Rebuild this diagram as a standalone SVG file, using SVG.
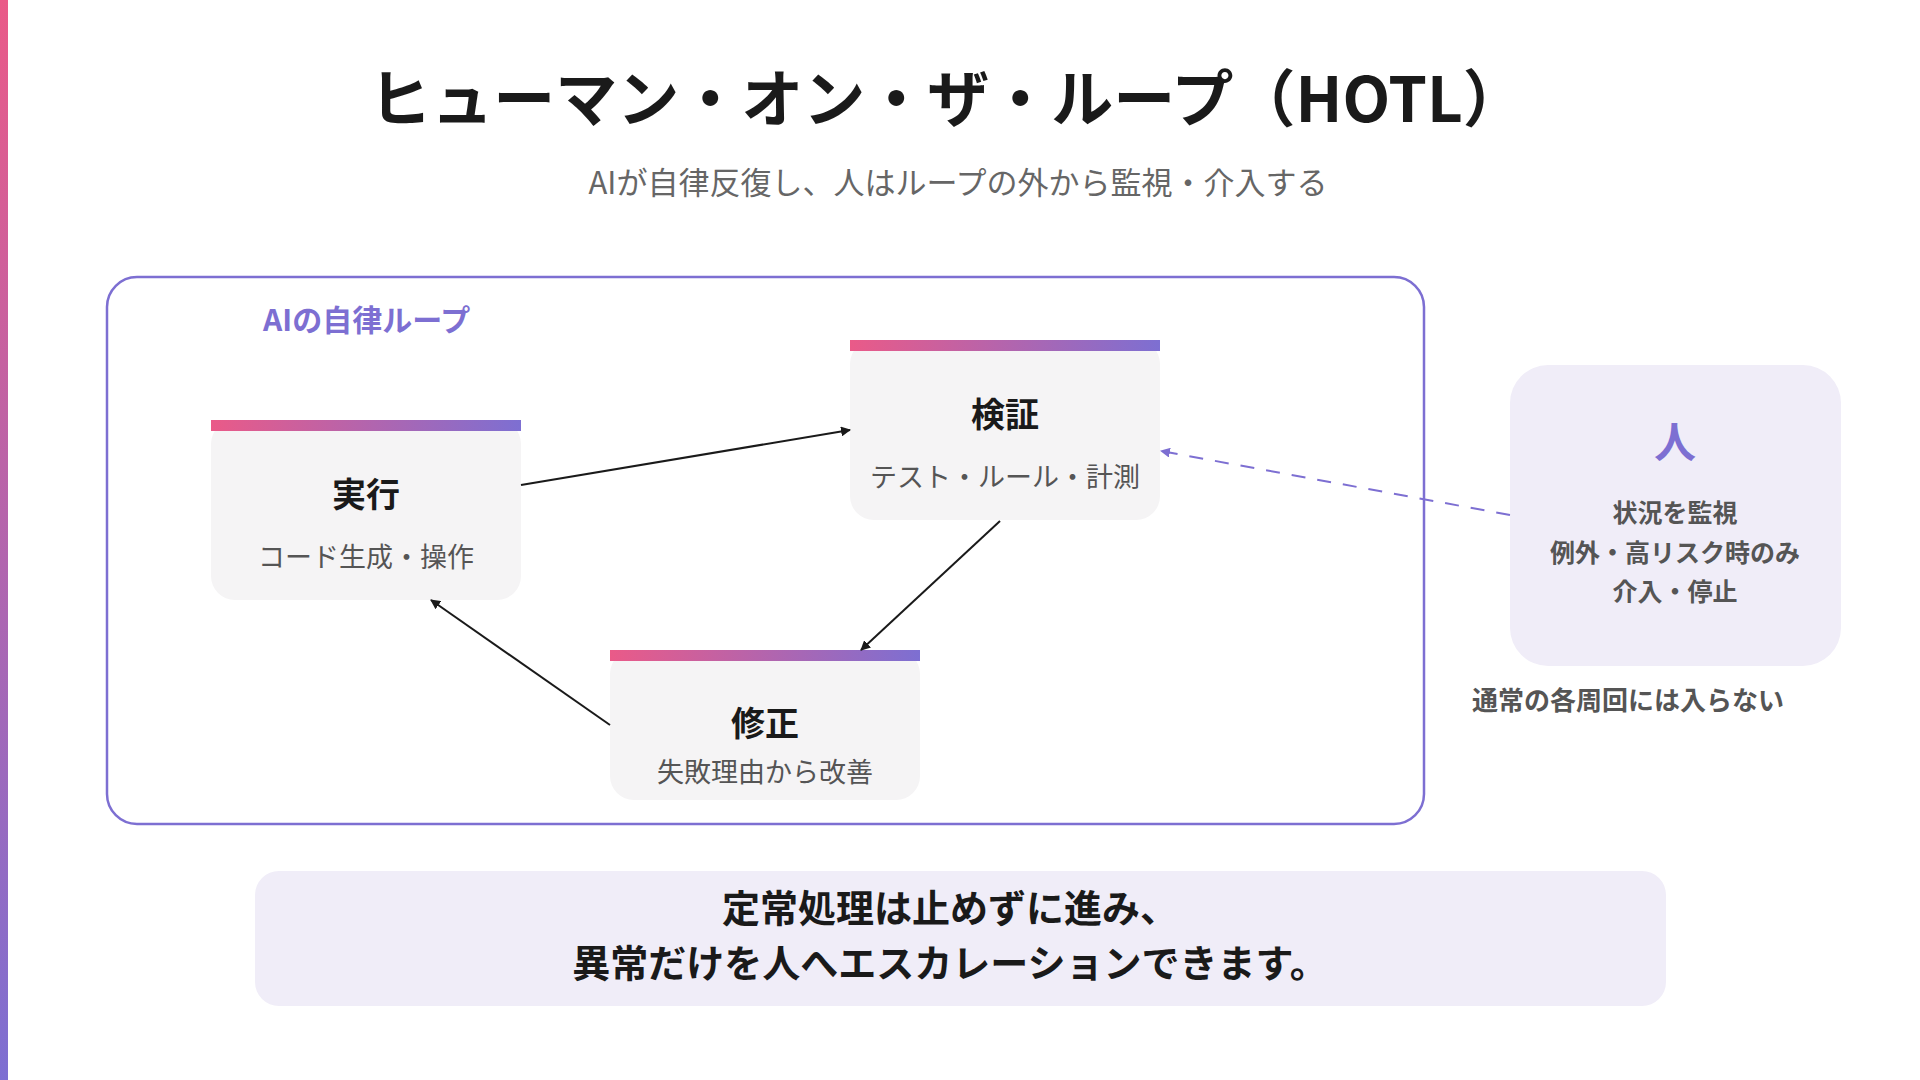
<svg xmlns="http://www.w3.org/2000/svg" width="1920" height="1080" viewBox="0 0 1920 1080">
<defs>
<linearGradient id="gh" x1="0" y1="0" x2="1" y2="0"><stop offset="0" stop-color="#ea5a88"/><stop offset="1" stop-color="#7d6fd2"/></linearGradient>
<linearGradient id="gv" x1="0" y1="0" x2="0" y2="1"><stop offset="0" stop-color="#ea5a88"/><stop offset="1" stop-color="#7d6fd2"/></linearGradient>
<marker id="ah" viewBox="0 0 10 10" refX="9" refY="5" markerWidth="10" markerHeight="10" markerUnits="userSpaceOnUse" orient="auto"><path d="M0,0 L10,5 L0,10 z" fill="#1a1a1a"/></marker>
<marker id="ahp" viewBox="0 0 10 10" refX="9" refY="5" markerWidth="10" markerHeight="10" markerUnits="userSpaceOnUse" orient="auto"><path d="M0,0 L10,5 L0,10 z" fill="#7d6fd2"/></marker>
<style>
text{font-family:"Noto Sans CJK JP","Noto Sans",sans-serif;text-anchor:middle}
.nb{fill:#f5f4f5}
.nt{font-size:34px;font-weight:700;fill:#1a1a1a}
.ns{font-size:27px;fill:#555}
.hs{font-size:25px;font-weight:700;fill:#555}
</style>
</defs>
<rect width="1920" height="1080" fill="#fff"/>
<rect x="0" y="0" width="8" height="1080" fill="url(#gv)"/>
<text x="947" y="122" font-size="62" font-weight="700" fill="#1a1a1a">ヒューマン・オン・ザ・ループ（HOTL）</text>
<text x="958" y="194" font-size="31" fill="#666">AIが自律反復し、人はループの外から監視・介入する</text>
<g id="loop">
<rect x="107" y="277" width="1317" height="547" rx="30" fill="none" stroke="#7d6fd2" stroke-width="2.5"/>
<text x="263" y="331" font-size="30" font-weight="700" fill="#7d6fd2" style="text-anchor:start">AIの自律ループ</text>
</g>
<g id="exec">
<rect class="nb" x="211" y="420" width="310" height="180" rx="24"/>
<rect x="211" y="420" width="310" height="11" fill="url(#gh)"/>
<text class="nt" x="366" y="507">実行</text>
<text class="ns" x="366" y="567">コード生成・操作</text>
</g>
<g id="verify">
<rect class="nb" x="850" y="340" width="310" height="180" rx="24"/>
<rect x="850" y="340" width="310" height="11" fill="url(#gh)"/>
<text class="nt" x="1005" y="427">検証</text>
<text class="ns" x="1005" y="487">テスト・ルール・計測</text>
</g>
<g id="fix">
<rect class="nb" x="610" y="650" width="310" height="150" rx="24"/>
<rect x="610" y="650" width="310" height="11" fill="url(#gh)"/>
<text class="nt" x="765" y="736">修正</text>
<text class="ns" x="765" y="782">失敗理由から改善</text>
</g>
<g id="human">
<rect x="1510" y="365" width="331" height="301" rx="38" fill="#f0edf8"/>
<text x="1675" y="458" font-size="42" font-weight="700" fill="#7d6fd2">人</text>
<text class="hs" x="1675" y="522">状況を監視</text>
<text class="hs" x="1675" y="562">例外・高リスク時のみ</text>
<text class="hs" x="1675" y="601">介入・停止</text>
<text x="1628" y="710" font-size="26" font-weight="700" fill="#555">通常の各周回には入らない</text>
</g>
<g id="note">
<rect x="255" y="871" width="1411" height="135" rx="24" fill="#f0edf8"/>
<text x="950" y="922" font-size="38" font-weight="700" fill="#1a1a1a">定常処理は止めずに進み、</text>
<text x="950" y="977" font-size="38" font-weight="700" fill="#1a1a1a">異常だけを人へエスカレーションできます。</text>
</g>
<g id="connectors" fill="none">
<line x1="521" y1="485" x2="850" y2="430" stroke="#1a1a1a" stroke-width="2" marker-end="url(#ah)"/>
<line x1="1000" y1="521" x2="861" y2="650" stroke="#1a1a1a" stroke-width="2" marker-end="url(#ah)"/>
<line x1="610" y1="725" x2="431" y2="600" stroke="#1a1a1a" stroke-width="2" marker-end="url(#ah)"/>
<line x1="1510" y1="515" x2="1161" y2="451" stroke="#7d6fd2" stroke-width="2" stroke-dasharray="14,12" marker-end="url(#ahp)"/>
</g>
</svg>
